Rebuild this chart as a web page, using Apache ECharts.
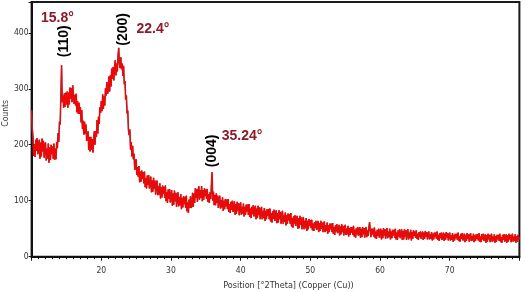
<!DOCTYPE html>
<html><head><meta charset="utf-8">
<script src="https://cdn.jsdelivr.net/npm/echarts@6/dist/echarts.min.js"></script>
<style>html,body{margin:0;padding:0;background:#fff}#c{width:525px;height:292px}</style>
</head><body><div id="c"></div>
<script>
// 2Theta sampling: 10.0 .. 80.0 every 0.1 degrees
const angleStart = 10.0;
const angleStep = 0.1;
// Counts, one block per 10 degrees (10 values per degree)
const counts10 = [
  262,228,214,180,201,178,209,189,212,183,
  184,209,175,204,179,211,188,207,177,200,
  204,172,193,175,202,168,195,173,200,183,
  197,175,202,173,193,174,205,194,221,205,
  241,236,286,342,276,288,266,292,268,293,
  272,295,266,293,272,302,282,301,276,306,
  304,273,289,270,291,258,278,255,275,255,
  267,240,262,228,243,218,241,220,236,207,
  206,224,191,214,188,214,191,210,186,210,
  224,200,224,214,244,220,250,237,267,257];
const counts20 = [
  278,260,290,264,287,270,301,288,312,291,
  297,322,295,324,304,336,318,339,315,338,
  351,324,345,331,358,373,345,337,356,335,
  345,323,341,308,314,281,288,256,261,226,
  217,227,191,205,179,198,174,184,155,170,
  174,146,160,143,162,133,152,134,154,139,
  151,131,152,124,140,122,145,128,146,122,
  124,143,115,136,116,141,122,136,111,129,
  136,110,126,111,131,104,124,106,127,112,
  125,105,127,99,115,96,120,103,121,97];
const counts30 = [
  99,119,91,113,93,118,99,114,89,108,
  115,90,106,92,112,85,105,88,108,94,
  107,87,109,81,97,78,102,87,108,87,
  92,114,89,113,96,122,105,121,98,118,
  126,102,119,105,126,99,119,102,122,108,
  120,103,121,98,112,96,115,103,128,151,
  100,116,92,110,92,113,96,109,87,102,
  109,86,101,88,106,82,100,85,103,90,
  102,85,103,80,94,78,98,84,100,80,
  82,99,75,94,77,98,82,96,74,90];
const counts40 = [
  97,75,89,77,95,72,89,75,93,81,
  93,75,94,71,86,69,89,76,92,72,
  74,91,67,86,69,91,74,88,67,83,
  89,67,82,69,87,64,82,67,85,73,
  85,67,86,63,78,61,81,68,84,64,
  66,83,60,78,61,83,67,80,59,75,
  82,59,74,62,79,56,74,59,77,65,
  76,59,78,54,69,52,72,59,74,55,
  57,73,50,69,51,73,57,70,49,65,
  71,49,64,51,69,46,64,49,67,55];
const counts50 = [
  65,51,66,47,59,46,62,51,64,48,
  50,64,44,60,46,64,50,61,44,57,
  63,44,56,46,61,41,56,44,59,49,
  59,44,60,41,53,39,56,45,58,42,
  44,57,38,54,40,58,44,55,38,51,
  57,39,50,40,55,36,51,39,53,43,
  53,39,55,36,48,34,51,40,53,37,
  39,53,34,50,35,53,40,51,34,47,
  53,35,47,37,52,62,47,35,50,40,
  50,36,52,33,45,32,48,37,50,34];
const counts60 = [
  36,50,31,47,33,51,38,49,32,45,
  51,33,45,35,50,31,45,33,48,38,
  48,34,50,31,43,30,47,36,49,33,
  35,49,30,46,31,49,36,47,30,43,
  49,31,43,33,48,29,44,32,47,37,
  45,34,47,32,41,30,44,35,45,32,
  34,45,30,43,32,46,36,44,31,41,
  45,31,40,32,44,29,41,31,43,35,
  43,32,45,30,39,28,42,33,43,30,
  32,43,28,41,30,44,34,42,29,39];
const counts70 = [
  43,29,38,30,42,27,39,29,41,33,
  41,30,43,28,37,27,41,32,42,29,
  30,41,26,39,28,42,32,40,27,37,
  42,28,37,29,41,26,38,28,40,32,
  40,29,42,27,36,26,40,31,41,28,
  29,40,25,38,27,41,31,39,26,36,
  41,27,36,28,40,25,37,27,39,31,
  39,28,41,26,35,25,39,30,40,27,
  29,40,25,38,27,41,31,39,26,36,
  41,27,36,28,40,25,37,27,39,31,
  34];

const xTicks = [20,30,40,50,60,70];
const yTicks = [0,100,200,300,400];
const xTitle = 'Position [°2Theta] (Copper (Cu))';
const yTitle = 'Counts';
const peakLabels = ['15.8°','22.4°','35.24°'];
const hklLabels = ['(110)','(200)','(004)'];

const allCounts = [].concat(counts10,counts20,counts30,counts40,counts50,counts60,counts70);
const data = allCounts.map((v,i)=>[+(angleStart + i*angleStep).toFixed(1), v]);

const chart = echarts.init(document.getElementById('c'), null, {renderer:'canvas'});
const axisFont = {fontFamily:'DejaVu Sans Condensed, DejaVu Sans', fontSize:8.5, color:'#333'};
chart.setOption({
  animation:false,
  grid:{left:31.6, right:5.6, top:2, bottom:35.3, outerBoundsMode:'none', containLabel:false,
    show:true, borderColor:'#1a1a1a', borderWidth:2, backgroundColor:'transparent'},
  xAxis:{type:'value', min:10, max:80, interval:10,
    name:xTitle, nameLocation:'middle', nameGap:24, nameMoveOverlap:false,
    nameTextStyle:Object.assign({}, axisFont, {fontSize:9, padding:[0,0,0,26]}),
    axisLine:{lineStyle:{color:'#111', width:2}},
    axisTick:{length:4, lineStyle:{color:'#111', width:1}},
    minorTick:{show:true, splitNumber:10, length:2.5, lineStyle:{color:'#111', width:1}},
    axisLabel:Object.assign({}, axisFont, {margin:10, formatter:v=>xTicks.includes(v)?String(v):''}),
    splitLine:{show:false}},
  yAxis:{type:'value', min:0, max:455, interval:100,
    name:yTitle, nameLocation:'middle', nameGap:21, nameRotate:90, nameMoveOverlap:false,
    nameTextStyle:Object.assign({}, axisFont, {padding:[0,0,0,32]}),
    axisLine:{lineStyle:{color:'#111', width:2}},
    axisTick:{length:3, lineStyle:{color:'#111', width:1}},
    axisLabel:Object.assign({}, axisFont, {margin:3, formatter:v=>yTicks.includes(v)?String(v):''}),
    splitLine:{show:false}},
  series:[
    {type:'line', data:data, showSymbol:false, lineStyle:{color:'#8a3a3a', width:1.6}, z:2, silent:true},
    {type:'line', data:data, showSymbol:false, lineStyle:{color:'#ff0000', width:0.9}, z:3, silent:true}
  ]
});

// Annotation anchors in data coordinates
const peakPos = [[13.7,426],[27.4,406],[40.2,215]];
const hklPos = [[14.6,385],[23.2,406],[35.9,189]];
const g = [];
peakLabels.forEach((t,i)=>{
  const p = chart.convertToPixel({gridIndex:0}, peakPos[i]);
  g.push({type:'text', x:p[0], y:p[1], style:{text:t, fill:'#8b1a2a', font:'bold 14px "Liberation Sans", Arial', align:'center', verticalAlign:'middle'}, z:10});
});
hklLabels.forEach((t,i)=>{
  const p = chart.convertToPixel({gridIndex:0}, hklPos[i]);
  g.push({type:'text', x:p[0], y:p[1], rotation:Math.PI/2, style:{text:t, fill:'#000', font:'bold 14px "Liberation Sans", Arial', align:'center', verticalAlign:'middle'}, z:10});
});
chart.setOption({graphic:g});
</script></body></html>
